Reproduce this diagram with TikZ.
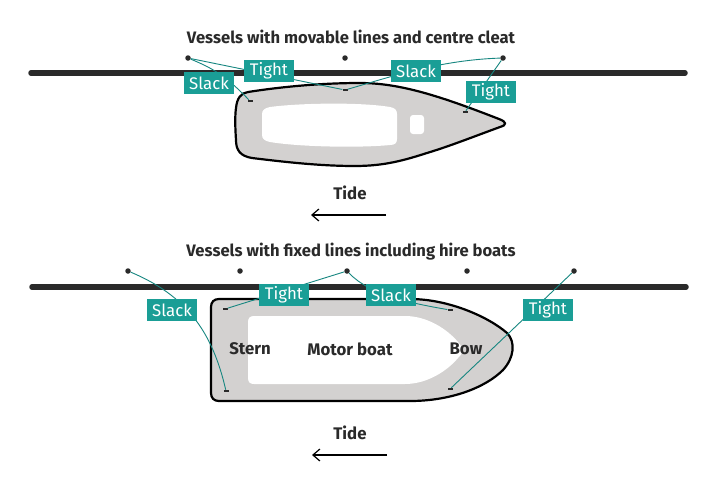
\documentclass[tikz,border=0pt]{standalone}
\usepackage{fontspec}
\setmainfont{Fira Sans}
\usetikzlibrary{arrows.meta}
\definecolor{teal1}{HTML}{1A9E96}
\definecolor{hull}{HTML}{D3D1D0}
\definecolor{ink}{HTML}{2A2A2A}
\tikzset{
  title/.style={font=\fontsize{16.6}{18}\selectfont\bfseries,text=ink,inner sep=0pt},
  plain/.style={font=\fontsize{16.8}{18}\selectfont\bfseries,text=ink,inner sep=0pt},
  tag/.style={fill=teal1,text=white,minimum width=50pt,minimum height=22pt,inner sep=0pt,font=\fontsize{16.8}{18}\selectfont},
  post/.style={circle,fill=ink,minimum size=5.5pt,inner sep=0pt},
  cleat/.style={rectangle,fill=ink,minimum width=5pt,minimum height=2.2pt,inner sep=0pt},
  rope/.style={draw=teal1!85!black,line width=0.9pt},
  rail/.style={draw=ink,line width=5.5pt,line cap=round},
  hullline/.style={draw=black,fill=hull,line width=2.2pt,line join=round},
  tidearrow/.style={draw=black,line width=1.2pt,-{Straight Barb[length=7pt,width=12pt,line width=1.2pt]}}
}
\begin{document}
\begin{tikzpicture}[x=1pt,y=-1pt]
\useasboundingbox (0,0) rectangle (720,480);
\fill[white] (0,0) rectangle (720,480);
% top scene
\node[title] (t1) at (351,37) {Vessels with movable lines and centre cleat};
\coordinate (r1a) at (31,73); \coordinate (r1b) at (685,73);
\draw[rail] (r1a) -- (r1b);
\draw[hullline] (248,92) .. controls (280,87) and (320,83) .. (360,83)
  .. controls (400,83) and (440,96) .. (499,119)
  .. controls (507,122) and (507,125) .. (500,127)
  .. controls (470,138) and (450,146) .. (427,153)
  .. controls (405,160) and (385,166) .. (355,166)
  .. controls (320,166) and (285,162) .. (252,158)
  .. controls (240,156) and (236,150) .. (236,140)
  .. controls (235,125) and (235,115) .. (236,108)
  .. controls (237,98) and (241,93) .. (248,92) -- cycle;
\fill[white] (270,107) .. controls (300,103) and (360,102) .. (390,107)
  .. controls (395,108) and (397,110) .. (397,114)
  -- (397,139) .. controls (397,143) and (395,145) .. (390,145)
  .. controls (360,148) and (300,147) .. (270,142)
  .. controls (265,141) and (262,139) .. (262,135)
  -- (262,114) .. controls (262,110) and (265,108) .. (270,107) -- cycle;
\fill[white,rounded corners=3pt] (410,115) rectangle (424,134);
\node[post] (p1) at (188,58) {};
\node[post] (p2) at (345,58) {};
\node[post] (p3) at (503,58) {};
\node[cleat] (c1) at (250,101) {};
\node[cleat] (c2) at (345,90) {};
\node[cleat] (c3) at (465,112) {};
\draw[rope] (p1) .. controls (212,68) and (225,75) .. (c1);
\draw[rope] (p1) -- (c2);
\draw[rope] (c2) .. controls (390,77) and (440,60) .. (p3);
\draw[rope] (p3) -- (c3);
\node[tag] (s1) at (209,83) {Slack};
\node[tag] (g1) at (269,71) {Tight};
\node[tag] (s2) at (416,71) {Slack};
\node[tag] (g2) at (491,92) {Tight};
\node[plain] (tide1) at (350,193) {Tide};
\coordinate (a1a) at (386,215); \coordinate (a1b) at (311,215);
\draw[tidearrow] (a1a) -- (a1b);
% bottom scene
\node[title] (t2) at (351,252) {Vessels with fixed lines including hire boats};
\coordinate (r2a) at (32,287); \coordinate (r2b) at (686,287);
\draw[rail] (r2a) -- (r2b);
\draw[hullline] (219,299) -- (410,299)
  .. controls (450,299) and (490,318) .. (507,333)
  .. controls (516,342) and (514,358) .. (503,370)
  .. controls (485,388) and (450,401) .. (410,401)
  -- (219,401) .. controls (214,401) and (211,398) .. (211,393)
  -- (211,307) .. controls (211,302) and (214,299) .. (219,299) -- cycle;
\fill[white] (254,316) -- (405,316)
  .. controls (428,316) and (448,330) .. (458,342)
  .. controls (464,349) and (464,352) .. (458,358)
  .. controls (448,370) and (428,384) .. (405,384)
  -- (254,384) .. controls (250,384) and (248,382) .. (248,378)
  -- (248,322) .. controls (248,318) and (250,316) .. (254,316) -- cycle;
\node[post] (q1) at (128,271) {};
\node[post] (q2) at (240,271) {};
\node[post] (q3) at (347,271) {};
\node[post] (q4) at (467,271) {};
\node[post] (q5) at (574,271) {};
\node[cleat] (d1) at (225,309) {};
\node[cleat] (d2) at (226,391) {};
\node[cleat] (d3) at (450,310) {};
\node[cleat] (d4) at (450,389) {};
\draw[rope] (q1) .. controls (185,295) and (212,330) .. (d2);
\draw[rope] (d1) -- (q3);
\draw[rope] (q3) .. controls (370,295) and (410,303) .. (d3);
\draw[rope] (d4) -- (q5);
\node[tag] (s3) at (172,310) {Slack};
\node[tag] (g3) at (284,295) {Tight};
\node[tag] (s4) at (391,295) {Slack};
\node[tag] (g4) at (548,310) {Tight};
\node[plain] (stern) at (250,349) {Stern};
\node[plain] (motor) at (350,349) {Motor boat};
\node[plain] (bow) at (466,349) {Bow};
\node[plain] (tide2) at (350,433) {Tide};
\coordinate (a2a) at (387,455); \coordinate (a2b) at (312,455);
\draw[tidearrow] (a2a) -- (a2b);
\end{tikzpicture}
\end{document}
